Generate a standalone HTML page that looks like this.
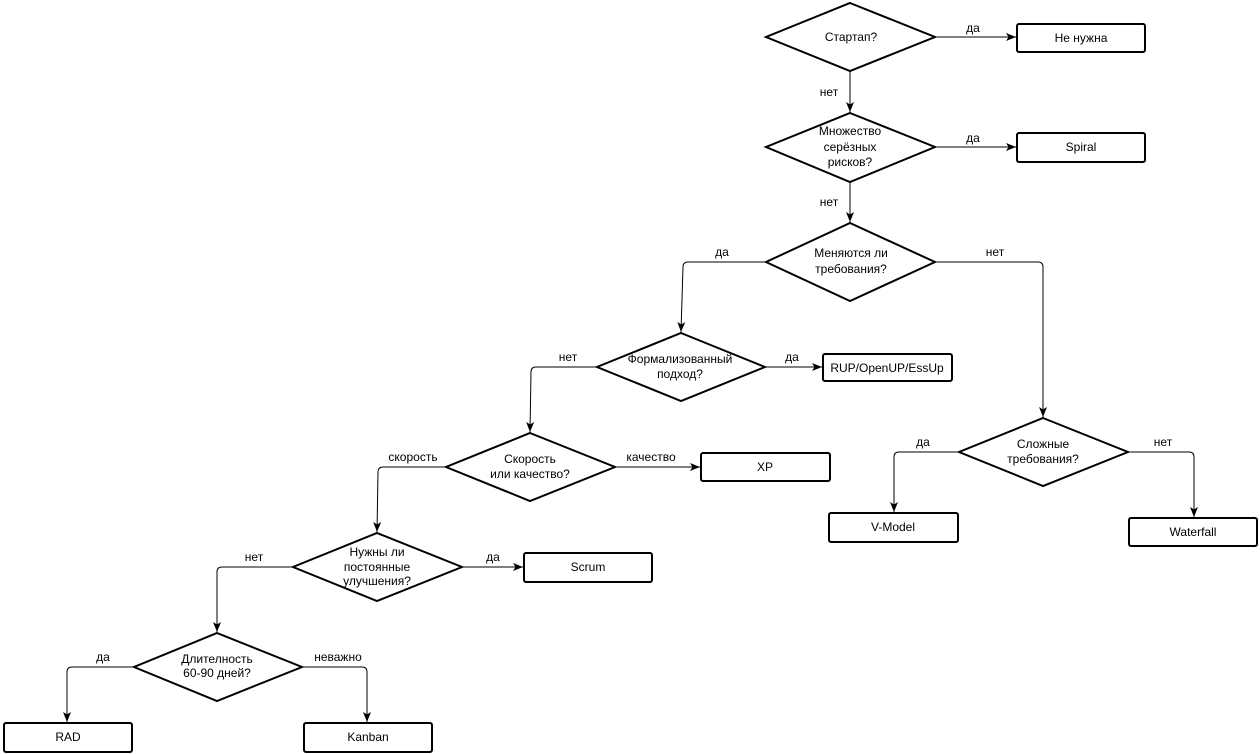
<!DOCTYPE html>
<html><head><meta charset="utf-8"><style>
html,body{margin:0;padding:0;background:#fff;}
svg{display:block;}
text{font-family:"Liberation Sans","DejaVu Sans",sans-serif;font-size:12px;fill:#000;}
</style></head><body>
<svg width="1260" height="754" viewBox="0 0 1260 754" xmlns="http://www.w3.org/2000/svg">
<defs>
<marker id="a" viewBox="0 0 10 8" refX="10" refY="4" markerWidth="10" markerHeight="8" markerUnits="userSpaceOnUse" orient="auto">
<path d="M0,0 L10,4 L0,8 L2.5,4 z" fill="#000"/>
</marker>
</defs>
<g fill="none" stroke="#000" stroke-width="1" marker-end="url(#a)">
<path d="M850,72 L850,112"/>
<path d="M850,183 L850,222"/>
<path d="M936,37 L1016,37"/>
<path d="M936,147 L1016,147"/>
<path d="M765,262 L688,262 Q683,262 683,267 L681,332"/>
<path d="M936,262 L1038,262 Q1043,262 1043,267 L1043,417"/>
<path d="M766,367 L822,367"/>
<path d="M596,367 L536,367 Q531,367 531,372 L530,432"/>
<path d="M616,467 L700,467"/>
<path d="M445,467 L383,467 Q378,467 378,472 L377,532"/>
<path d="M463,567 L523,567"/>
<path d="M292,567 L222,567 Q217,567 217,572 L217,632"/>
<path d="M133,667 L72,667 Q67,667 67,672 L67,722"/>
<path d="M303,667 L362,667 Q367,667 367,672 L367,722"/>
<path d="M958,452 L899,452 Q894,452 894,457 L894,512"/>
<path d="M1129,452 L1189,452 Q1194,452 1194,457 L1194,517"/>
</g>
<g fill="#fff" stroke="#000" stroke-width="2">
<polygon points="850,3 935,37 850,71 766,37"/>
<polygon points="850,113 935,147 850,182 766,147"/>
<polygon points="850,223 935,262 850,301 766,262"/>
<polygon points="681,333 765,367 681,401 597,367"/>
<polygon points="530,433 615,467 530,501 446,467"/>
<polygon points="377,533 462,567 377,601 293,567"/>
<polygon points="217,633 302,667 217,701 134,667"/>
<polygon points="1043,418 1128,452 1043,486 959,452"/>
<rect x="1017" y="24" width="128" height="28" rx="2"/>
<rect x="1017" y="133" width="128" height="29" rx="2"/>
<rect x="823" y="354" width="129" height="27" rx="2"/>
<rect x="701" y="453" width="129" height="28" rx="2"/>
<rect x="524" y="553" width="128" height="29" rx="2"/>
<rect x="829" y="513" width="129" height="29" rx="2"/>
<rect x="1129" y="518" width="128" height="28" rx="2"/>
<rect x="4" y="723" width="128" height="29" rx="2"/>
<rect x="304" y="723" width="128" height="29" rx="2"/>
</g>
<g text-anchor="middle">
<text x="851" y="41">Стартап?</text>
<text x="850" y="135">Множество</text>
<text x="850" y="151">серёзных</text>
<text x="850" y="166">рисков?</text>
<text x="851" y="257">Меняются ли</text>
<text x="851" y="273">требования?</text>
<text x="680" y="363">Формализованный</text>
<text x="680" y="378">подход?</text>
<text x="530" y="463">Скорость</text>
<text x="530" y="478">или качество?</text>
<text x="377" y="556">Нужны ли</text>
<text x="377" y="571">постоянные</text>
<text x="377" y="585">улучшения?</text>
<text x="217" y="663">Длителность</text>
<text x="217" y="677">60-90 дней?</text>
<text x="1043" y="448">Сложные</text>
<text x="1043" y="463">требования?</text>

<text x="1081" y="42">Не нужна</text>
<text x="1081" y="151">Spiral</text>
<text x="887" y="372">RUP/OpenUP/EssUp</text>
<text x="765" y="471">XP</text>
<text x="588" y="571">Scrum</text>
<text x="893" y="531">V-Model</text>
<text x="1193" y="536">Waterfall</text>
<text x="68" y="741">RAD</text>
<text x="368" y="741">Kanban</text>

<text x="973" y="32">да</text>
<text x="973" y="142">да</text>
<text x="829" y="96">нет</text>
<text x="829" y="206">нет</text>
<text x="722" y="256">да</text>
<text x="995" y="256">нет</text>
<text x="568" y="361">нет</text>
<text x="792" y="361">да</text>
<text x="413" y="461">скорость</text>
<text x="651" y="461">качество</text>
<text x="254" y="561">нет</text>
<text x="493" y="561">да</text>
<text x="103" y="661">да</text>
<text x="338" y="661">неважно</text>
<text x="923" y="446">да</text>
<text x="1163" y="446">нет</text>
</g>
</svg>
</body></html>
